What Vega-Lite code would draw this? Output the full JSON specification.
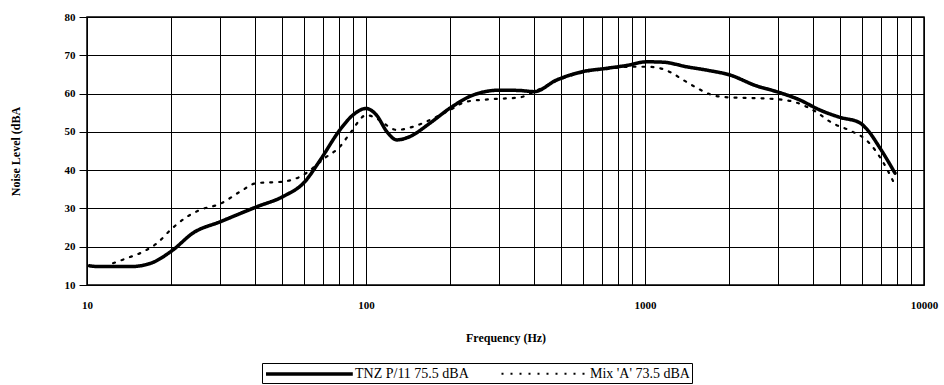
{
  "$schema": "https://vega.github.io/schema/vega-lite/v6.json",
  "width": 837,
  "height": 268,
  "autosize": "none",
  "padding": {"left": 87, "top": 17, "right": 20, "bottom": 100},
  "background": "white",
  "config": {
    "view": {"stroke": "black", "strokeWidth": 1.5},
    "font": "Liberation Serif",
    "axis": {"labelFont": "Liberation Serif", "titleFont": "Liberation Serif", "labelColor": "black", "titleColor": "black", "labelFontWeight": "bold", "labelFontSize": 11, "titleFontSize": 12, "titleFontWeight": "bold", "gridColor": "black", "gridOpacity": 1, "gridWidth": 1, "domain": false, "tickColor": "black"}
  },
  "data": {"values": [
    {"s": "TNZ P/11 75.5 dBA", "f": 10.2, "db": 15.0},
    {"s": "TNZ P/11 75.5 dBA", "f": 11.1, "db": 14.8},
    {"s": "TNZ P/11 75.5 dBA", "f": 14.3, "db": 14.8},
    {"s": "TNZ P/11 75.5 dBA", "f": 16.8, "db": 15.6},
    {"s": "TNZ P/11 75.5 dBA", "f": 20.2, "db": 19.0},
    {"s": "TNZ P/11 75.5 dBA", "f": 24, "db": 23.6},
    {"s": "TNZ P/11 75.5 dBA", "f": 30, "db": 26.5},
    {"s": "TNZ P/11 75.5 dBA", "f": 40.5, "db": 30.4},
    {"s": "TNZ P/11 75.5 dBA", "f": 50.4, "db": 33.1},
    {"s": "TNZ P/11 75.5 dBA", "f": 60.4, "db": 37.0},
    {"s": "TNZ P/11 75.5 dBA", "f": 68.5, "db": 42.6},
    {"s": "TNZ P/11 75.5 dBA", "f": 80.6, "db": 50.5},
    {"s": "TNZ P/11 75.5 dBA", "f": 89.8, "db": 54.4},
    {"s": "TNZ P/11 75.5 dBA", "f": 100, "db": 56.1},
    {"s": "TNZ P/11 75.5 dBA", "f": 109, "db": 54.4},
    {"s": "TNZ P/11 75.5 dBA", "f": 118.9, "db": 50.0},
    {"s": "TNZ P/11 75.5 dBA", "f": 128.9, "db": 47.9},
    {"s": "TNZ P/11 75.5 dBA", "f": 143, "db": 48.7},
    {"s": "TNZ P/11 75.5 dBA", "f": 169, "db": 52.2},
    {"s": "TNZ P/11 75.5 dBA", "f": 200, "db": 56.2},
    {"s": "TNZ P/11 75.5 dBA", "f": 242, "db": 59.6},
    {"s": "TNZ P/11 75.5 dBA", "f": 303, "db": 60.9},
    {"s": "TNZ P/11 75.5 dBA", "f": 356, "db": 60.8},
    {"s": "TNZ P/11 75.5 dBA", "f": 401, "db": 60.5},
    {"s": "TNZ P/11 75.5 dBA", "f": 481, "db": 63.5},
    {"s": "TNZ P/11 75.5 dBA", "f": 596, "db": 65.7},
    {"s": "TNZ P/11 75.5 dBA", "f": 729, "db": 66.6},
    {"s": "TNZ P/11 75.5 dBA", "f": 870, "db": 67.4},
    {"s": "TNZ P/11 75.5 dBA", "f": 1013, "db": 68.3},
    {"s": "TNZ P/11 75.5 dBA", "f": 1161, "db": 68.2},
    {"s": "TNZ P/11 75.5 dBA", "f": 1409, "db": 67.0},
    {"s": "TNZ P/11 75.5 dBA", "f": 1700, "db": 66.0},
    {"s": "TNZ P/11 75.5 dBA", "f": 2004, "db": 64.9},
    {"s": "TNZ P/11 75.5 dBA", "f": 2509, "db": 62.0},
    {"s": "TNZ P/11 75.5 dBA", "f": 2960, "db": 60.5},
    {"s": "TNZ P/11 75.5 dBA", "f": 3594, "db": 58.3},
    {"s": "TNZ P/11 75.5 dBA", "f": 4235, "db": 55.7},
    {"s": "TNZ P/11 75.5 dBA", "f": 4988, "db": 53.8},
    {"s": "TNZ P/11 75.5 dBA", "f": 5875, "db": 52.4},
    {"s": "TNZ P/11 75.5 dBA", "f": 6205, "db": 50.9},
    {"s": "TNZ P/11 75.5 dBA", "f": 6963, "db": 45.7},
    {"s": "TNZ P/11 75.5 dBA", "f": 7875, "db": 39.2},
    {"s": "Mix 'A' 73.5 dBA", "f": 12.4, "db": 15.7},
    {"s": "Mix 'A' 73.5 dBA", "f": 13.9, "db": 17.0},
    {"s": "Mix 'A' 73.5 dBA", "f": 15.9, "db": 18.7},
    {"s": "Mix 'A' 73.5 dBA", "f": 17.8, "db": 20.9},
    {"s": "Mix 'A' 73.5 dBA", "f": 20.2, "db": 24.8},
    {"s": "Mix 'A' 73.5 dBA", "f": 22.8, "db": 27.8},
    {"s": "Mix 'A' 73.5 dBA", "f": 25.4, "db": 29.6},
    {"s": "Mix 'A' 73.5 dBA", "f": 30, "db": 31.2},
    {"s": "Mix 'A' 73.5 dBA", "f": 35.4, "db": 34.4},
    {"s": "Mix 'A' 73.5 dBA", "f": 40.5, "db": 36.6},
    {"s": "Mix 'A' 73.5 dBA", "f": 50.4, "db": 37.0},
    {"s": "Mix 'A' 73.5 dBA", "f": 58.1, "db": 38.3},
    {"s": "Mix 'A' 73.5 dBA", "f": 72.2, "db": 43.5},
    {"s": "Mix 'A' 73.5 dBA", "f": 80.6, "db": 46.1},
    {"s": "Mix 'A' 73.5 dBA", "f": 87.6, "db": 49.6},
    {"s": "Mix 'A' 73.5 dBA", "f": 100.5, "db": 54.4},
    {"s": "Mix 'A' 73.5 dBA", "f": 109, "db": 53.5},
    {"s": "Mix 'A' 73.5 dBA", "f": 128.9, "db": 50.5},
    {"s": "Mix 'A' 73.5 dBA", "f": 147, "db": 51.3},
    {"s": "Mix 'A' 73.5 dBA", "f": 174, "db": 53.5},
    {"s": "Mix 'A' 73.5 dBA", "f": 200, "db": 55.7},
    {"s": "Mix 'A' 73.5 dBA", "f": 229, "db": 57.9},
    {"s": "Mix 'A' 73.5 dBA", "f": 277, "db": 58.5},
    {"s": "Mix 'A' 73.5 dBA", "f": 356, "db": 59.0},
    {"s": "Mix 'A' 73.5 dBA", "f": 401, "db": 60.5},
    {"s": "Mix 'A' 73.5 dBA", "f": 481, "db": 63.3},
    {"s": "Mix 'A' 73.5 dBA", "f": 596, "db": 65.5},
    {"s": "Mix 'A' 73.5 dBA", "f": 729, "db": 66.4},
    {"s": "Mix 'A' 73.5 dBA", "f": 886, "db": 67.0},
    {"s": "Mix 'A' 73.5 dBA", "f": 1013, "db": 67.0},
    {"s": "Mix 'A' 73.5 dBA", "f": 1133, "db": 66.6},
    {"s": "Mix 'A' 73.5 dBA", "f": 1254, "db": 65.3},
    {"s": "Mix 'A' 73.5 dBA", "f": 1354, "db": 63.8},
    {"s": "Mix 'A' 73.5 dBA", "f": 1524, "db": 61.6},
    {"s": "Mix 'A' 73.5 dBA", "f": 1744, "db": 59.6},
    {"s": "Mix 'A' 73.5 dBA", "f": 2004, "db": 59.0},
    {"s": "Mix 'A' 73.5 dBA", "f": 2509, "db": 58.8},
    {"s": "Mix 'A' 73.5 dBA", "f": 2880, "db": 58.6},
    {"s": "Mix 'A' 73.5 dBA", "f": 3397, "db": 57.9},
    {"s": "Mix 'A' 73.5 dBA", "f": 4000, "db": 55.7},
    {"s": "Mix 'A' 73.5 dBA", "f": 4720, "db": 52.2},
    {"s": "Mix 'A' 73.5 dBA", "f": 5560, "db": 50.0},
    {"s": "Mix 'A' 73.5 dBA", "f": 6205, "db": 47.9},
    {"s": "Mix 'A' 73.5 dBA", "f": 7170, "db": 41.8},
    {"s": "Mix 'A' 73.5 dBA", "f": 7875, "db": 36.1}
  ]},
  "mark": {"type": "line", "interpolate": "monotone", "color": "black", "strokeCap": "round"},
  "encoding": {
    "x": {
      "field": "f", "type": "quantitative",
      "scale": {"type": "log", "domain": [10, 10000], "nice": false},
      "axis": {
        "title": "Frequency (Hz)",
        "values": [10,20,30,40,50,60,70,80,90,100,200,300,400,500,600,700,800,900,1000,2000,3000,4000,5000,6000,7000,8000,9000,10000],
        "labelExpr": "(datum.value==10||datum.value==100||datum.value==1000||datum.value==10000) ? format(datum.value,'d') : ''",
        "labelFlush": false,
        "ticks": false,
        "labelPadding": 14,
        "titlePadding": 22
      }
    },
    "y": {
      "field": "db", "type": "quantitative",
      "scale": {"domain": [10, 80], "nice": false, "zero": false},
      "axis": {"title": "Noise Level (dBA", "values": [10,20,30,40,50,60,70,80], "tickSize": 8, "labelPadding": 4, "labelFlush": false, "titlePadding": 42}
    },
    "strokeDash": {
      "field": "s", "type": "nominal",
      "sort": ["TNZ P/11 75.5 dBA", "Mix 'A' 73.5 dBA"],
      "scale": {"domain": ["TNZ P/11 75.5 dBA", "Mix 'A' 73.5 dBA"], "range": [[1, 0], [2, 7]]},
      "legend": {
        "title": null, "orient": "none", "direction": "horizontal",
        "legendX": 175, "legendY": 346,
        "strokeColor": "black", "padding": 2,
        "labelFont": "Liberation Serif", "labelFontSize": 14, "labelColor": "black",
        "symbolType": "M-1,0L11.4,0", "symbolSize": 196, "symbolStrokeColor": "black", "symbolStrokeWidth": 2.5,
        "columnPadding": 28, "labelOffset": 73
      }
    },
    "strokeWidth": {
      "field": "s", "type": "nominal",
      "scale": {"domain": ["TNZ P/11 75.5 dBA", "Mix 'A' 73.5 dBA"], "range": [3.5, 2.2]},
      "legend": null
    }
  }
}
